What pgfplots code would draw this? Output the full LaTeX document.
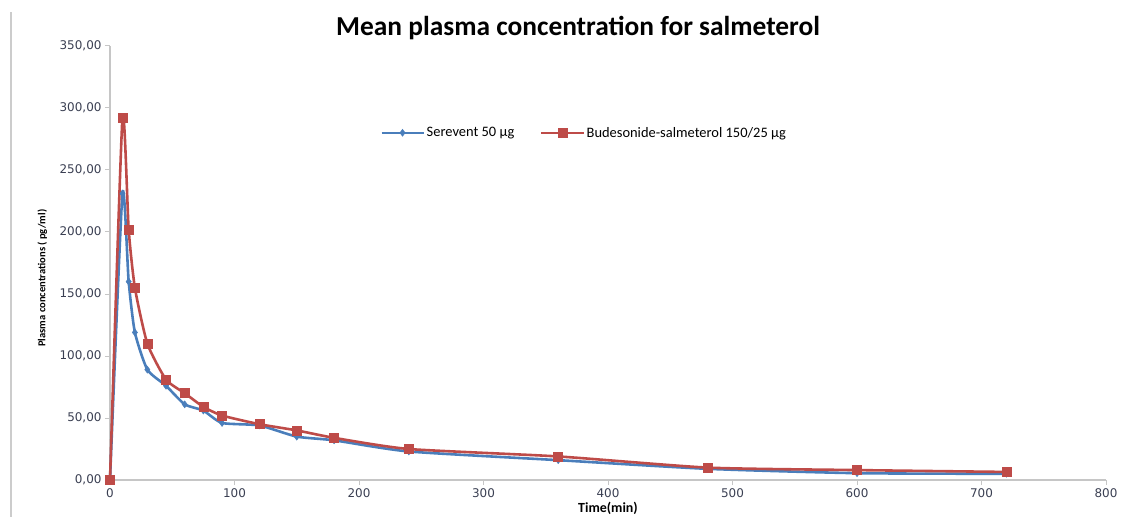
\documentclass[border=0pt]{standalone}
\usepackage{fontspec}
\setmainfont{Carlito}
\newfontfamily\tickfont{DejaVu Sans}
\usepackage{pgfplots}
\pgfplotsset{compat=1.18}

\definecolor{serblue}{HTML}{4A7EBB}
\definecolor{budred}{HTML}{BE4B48}
\definecolor{ticktext}{HTML}{3A3F52}

\begin{document}
\begin{tikzpicture}[x=1bp,y=1bp]
\begin{axis}[
    name=ax,
    scale only axis,
    width=996bp, height=434bp,
    xmin=0, xmax=800,
    ymin=0, ymax=350,
    xtick={0,100,...,800},
    ytick={0,50,...,350},
    axis x line*=bottom,
    axis y line*=left,
    axis line style={gray!45, line width=1.2pt},
    tick style={gray!45, line width=1pt},
    tick align=outside,
    major tick length=5bp,
    x axis line style={-},
    y axis line style={-},
    yticklabel style={/pgf/number format/.cd, fixed, fixed zerofill, precision=2, use comma, /tikz/.cd},
    xticklabel style={/pgf/number format/.cd, fixed, precision=0, /tikz/.cd},
    /pgf/number format/assume math mode=true,
    tick label style={font=\tickfont\fontsize{12}{14}\selectfont, text=ticktext},
    xlabel={\textbf{Time(min)}},
    xlabel style={font=\fontsize{14}{16}\selectfont, yshift=2bp},
    ylabel={\textbf{Plasma concentrations ( pg/ml)}},
    ylabel style={font=\fontsize{10.6}{12}\selectfont, at={(axis description cs:-0.068,0.465)}, anchor=center, rotate=0},
    title={\textbf{Mean plasma concentration for salmeterol}},
    title style={font=\fontsize{27.5}{30}\selectfont, at={(0.47,1)}, yshift=-3bp},
    legend style={
        at={(0.476,0.80)}, anchor=center,
        draw=none, fill=none,
        font=\fontsize{14.5}{16}\selectfont,
        legend columns=2,
        /tikz/every even column/.append style={column sep=24bp},
        /tikz/every odd column/.append style={inner xsep=1bp},
    },
    legend cell align=left,
    legend image code/.code={%
        \draw[mark repeat=2, mark phase=2, #1, line width=2.4pt]
            plot coordinates {(0bp,0bp) (21bp,0bp) (42bp,0bp)};},
    clip=false,
]
\addplot[serblue, line width=2.6pt, smooth, tension=0.35,
    mark=diamond*, mark size=3.5pt, mark options={solid, fill=serblue, line width=0.5pt}]
coordinates {
    (0,0) (10,231) (15,160) (20,119) (30,89) (45,76) (60,61) (75,56)
    (90,46) (120,44) (150,35) (180,32) (240,23) (360,16) (480,9)
    (600,5.5) (720,5)
};
\addlegendentry{Serevent 50 µg}
\addplot[budred, line width=2.6pt, smooth, tension=0.35,
    mark=square*, mark size=4.5pt, mark options={solid, fill=budred, line width=0.5pt}]
coordinates {
    (0,0) (10,292) (15,202) (20,155) (30,110) (45,81) (60,70) (75,59)
    (90,52) (120,45) (150,40) (180,34) (240,25) (360,19) (480,10)
    (600,8) (720,6.5)
};
\addlegendentry{Budesonide-salmeterol 150/25 µg}
\end{axis}
\draw[gray!40, line width=1.2pt] ([shift={(-99bp,-37bp)}]ax.south west) -- ([shift={(-99bp,34bp)}]ax.north west);
\pgfresetboundingbox
\path ([shift={(-110bp,-37bp)}]ax.south west) rectangle ([shift={(16bp,46bp)}]ax.north east);
\end{tikzpicture}
\end{document}
